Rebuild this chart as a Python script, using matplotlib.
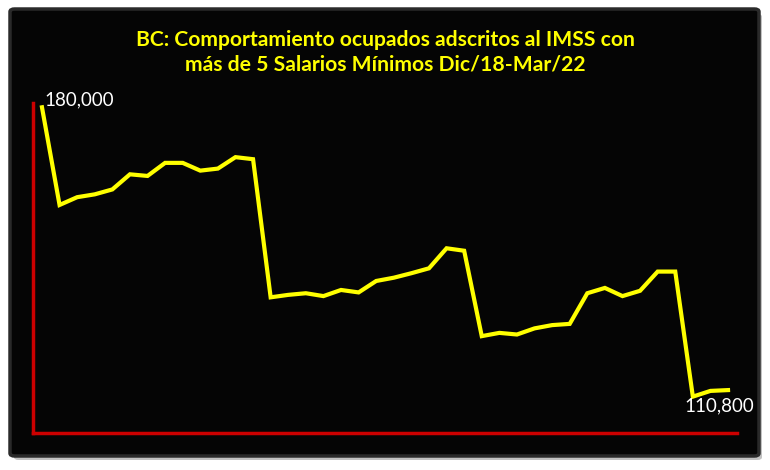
import matplotlib
matplotlib.use("Agg")
import matplotlib.pyplot as plt
from matplotlib.patches import FancyBboxPatch

# Ocupados IMSS con más de 5 salarios mínimos, Dic/18 - Mar/22 (mensual)
valores = [180000, 156100, 158000, 158700, 159900, 163600, 163200, 166400,
           166400, 164500, 165000, 167800, 167300, 133500, 134100, 134500,
           133800, 135300, 134700, 137500, 138300, 139400, 140600, 145500,
           144900, 124000, 124800, 124400, 125900, 126700, 127000, 134500,
           135800, 133800, 135100, 139800, 139800, 109200, 110600, 110800]
etiqueta_ini = "180,000"
etiqueta_fin = "110,800"
titulo = ("BC: Comportamiento ocupados adscritos al IMSS con\n"
          "más de 5 Salarios Mínimos Dic/18-Mar/22")

fuente = ["Lato", "DejaVu Sans"]

fig = plt.figure(figsize=(7.7, 4.7), dpi=100)
fig.patch.set_facecolor("white")

# sombra y panel negro
sombra = FancyBboxPatch((14 / 770, 10 / 470), 748 / 770, 446 / 470,
                        boxstyle="round,pad=0,rounding_size=0.006",
                        transform=fig.transFigure, facecolor="#9a9a9a",
                        edgecolor="none", alpha=0.6, zorder=0)
panel = FancyBboxPatch((10 / 770, 14 / 470), 749 / 770, 447 / 470,
                       boxstyle="round,pad=0,rounding_size=0.006",
                       transform=fig.transFigure, facecolor="#050505",
                       edgecolor="#2a2a2a", linewidth=2.5, zorder=0)
fig.patches.extend([sombra, panel])

ax = fig.add_axes([33 / 770, 37 / 470, 704 / 770, 330 / 470])
ax.set_facecolor("none")
ax.set_zorder(2)

x = list(range(len(valores)))
ax.plot(x, valores, color="#FFFF00", linewidth=3, solid_joinstyle="miter")

ax.set_xlim(-0.51, len(valores) - 1 + 0.51)
ax.set_ylim(100300, 181050)

for lado in ["top", "right"]:
    ax.spines[lado].set_visible(False)
for lado in ["left", "bottom"]:
    ax.spines[lado].set_color("#CC0000")
    ax.spines[lado].set_linewidth(2.5)
ax.set_xticks([])
ax.set_yticks([])

ax.annotate(etiqueta_ini, (x[0], valores[0]), xytext=(1.5, -1),
            textcoords="offset points", color="white", fontsize=13.5,
            family=fuente, ha="left", va="bottom", annotation_clip=False)
ax.annotate(etiqueta_fin, (x[-1], valores[-1]), xytext=(-6, -5),
            textcoords="offset points", color="white", fontsize=13.5,
            family=fuente, ha="center", va="top", annotation_clip=False)

t = fig.text(0.5, 0.889, titulo, color="#FFFF00", fontsize=15.2,
             fontweight="bold", family=fuente, ha="center", va="center",
             linespacing=1.3)
t.set_zorder(3)

fig.savefig("out.png", dpi=100)
